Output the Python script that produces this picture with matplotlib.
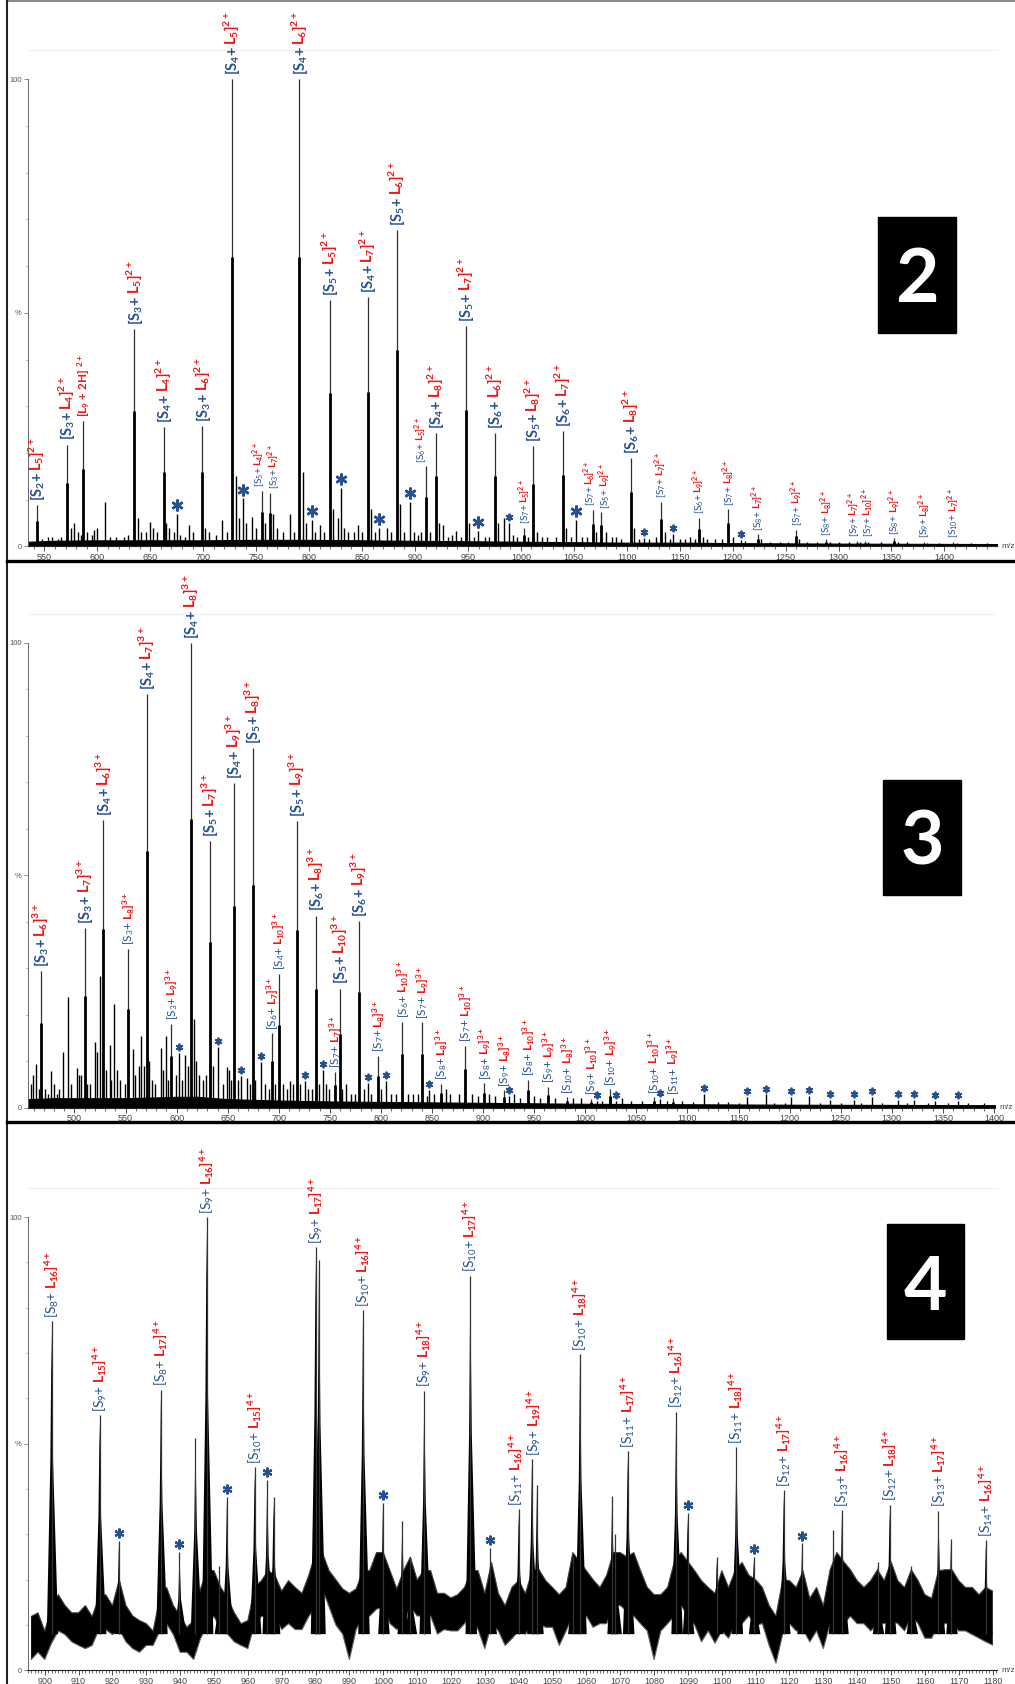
import numpy as np
import matplotlib
matplotlib.use("Agg")
import matplotlib.pyplot as plt
from matplotlib.transforms import offset_copy
from matplotlib.patches import Rectangle
from matplotlib.lines import Line2D
from matplotlib.ticker import MultipleLocator

plt.rcParams['font.family'] = ['Lato', 'DejaVu Sans']
plt.rcParams['mathtext.default'] = 'regular'
plt.rcParams['hatch.linewidth'] = 1.0

W, H, DPI = 1015, 1684, 100
BLUE = '#27508e'
RED = '#f01515'

### ---------------- panel 1 : 2+ ----------------
# labelled peaks: m/z, intensity, S index, L index, big label?
p1_mz  = [543.2, 571.0, 634.9, 662.6, 699.2, 727.2, 755.3, 763.1, 790.8, 819.5, 855.5,
          882.9, 910.6, 919.8, 947.7, 975.5, 1003.2, 1011.4, 1039.4, 1067.8, 1076.0,
          1103.7, 1132.0, 1168.0, 1196.0, 1223.7, 1260.0, 1288.0, 1317.0, 1324.6,
          1352.3, 1380.6, 1408.0]
p1_int = [8.8, 21.8, 46.6, 25.6, 25.8, 100, 11.9, 11.5, 100, 52.8, 53.3,
          67.7, 17.2, 24.3, 47.2, 24.3, 4.0, 21.4, 24.6, 7.8, 7.3,
          18.9, 9.6, 6.1, 8.0, 2.6, 3.6, 1.5, 1.2, 1.2,
          1.8, 1.0, 1.0]
p1_s   = ['2', '3', '3', '4', '3', '4', '5', '3', '4', '5', '4',
          '5', '6', '4', '5', '6', '7', '5', '6', '7', '5',
          '6', '7', '6', '7', '8', '7', '8', '9', '7',
          '8', '9', '10']
p1_l   = ['5', '4', '5', '4', '6', '5', '4', '7', '6', '5', '7',
          '6', '5', '8', '7', '6', '5', '8', '7', '6', '9',
          '8', '7', '9', '8', '7', '9', '8', '7', '10',
          '9', '8', '7']
p1_big = [1, 1, 1, 1, 1, 1, 0, 0, 1, 1, 1,
          1, 0, 1, 1, 1, 0, 1, 1, 0, 0,
          1, 0, 0, 0, 0, 0, 0, 0, 0,
          0, 0, 0]
# the [L9 + 2H] peak
p1_h_mz, p1_h_int = 586.4, 26.8
# asterisk peaks
a1_mz  = [675.0, 737.9, 802.5, 830.5, 866.2, 895.5, 959.4, 988.4, 1052.0, 1116.0, 1143.4, 1208.0]
a1_int = [6.9, 10.3, 5.7, 12.6, 4.0, 9.6, 3.4, 5.0, 5.7, 1.8, 2.6, 1.3]
a1_big = [1, 1, 1, 1, 1, 1, 1, 0, 1, 0, 0, 0]
# unlabelled small peaks
m1_mz  = [548, 553, 557, 563, 566, 575, 578, 582, 585, 590, 595, 597, 599.3, 607, 612, 618,
          625, 629, 638, 641, 646, 649.7, 653, 656, 665, 668, 672, 678, 683, 686.9, 690, 702,
          705, 712, 717.8, 722, 730.5, 734, 740.5, 745.8, 750, 758, 766, 770, 775, 782, 786,
          794, 797, 806, 810, 814, 822.5, 827, 833, 837, 842, 846, 850, 858.5, 862, 873.3,
          877, 886, 890, 899, 903, 906, 914, 923, 926, 931, 935, 939, 943, 951, 956, 966,
          970, 978, 983.7, 993, 996, 1007, 1015, 1020, 1025, 1033, 1043, 1047, 1058, 1062,
          1071, 1080, 1086, 1090, 1095, 1107, 1112, 1121, 1128, 1136, 1141, 1150, 1155, 1160,
          1164, 1172, 1176, 1183, 1190, 1200, 1212, 1227, 1235, 1245, 1252, 1263, 1270, 1280,
          1292, 1300, 1310, 1320, 1328, 1340, 1356, 1365, 1384, 1395, 1412, 1425, 1440]
m1_int = [1.5, 2, 2, 1.5, 2, 4, 5, 3, 2.5, 3, 2.5, 3.5, 4, 9.6, 2, 2,
          2, 2.5, 6, 3, 3, 5.3, 4, 3, 5, 4, 3, 2.5, 2, 4.6, 3, 4,
          3, 2.5, 5.7, 3, 15, 6, 5, 6.2, 4, 5, 6.9, 4, 3, 6.9, 3,
          16, 5, 3, 4.5, 3, 8, 6, 4, 3, 3, 4.5, 3, 8, 3, 4,
          3, 9, 3, 3, 2.5, 3, 3, 5, 4.5, 2, 2.5, 3.4, 2, 5, 2, 2,
          2, 5, 6, 2.5, 2, 2, 3, 2, 2, 2, 4, 2, 2, 2,
          3, 3, 2, 2, 1.5, 4, 1.5, 1.5, 2, 3, 1.5, 1.5, 1.5, 2,
          1.5, 2, 1.5, 1.5, 1.5, 2, 1.2, 1.5, 1, 1, 1, 1.5, 1, 1,
          1, 1, 1, 1, 1, 1, 1, 1, 0.8, 0.8, 0.8, 0.8, 0.8]
# noise floor
b1_mz  = [534, 560, 600, 650, 700, 750, 800, 850, 900, 950, 1000, 1050, 1100, 1150, 1200, 1300, 1450]
b1_lvl = [1.0, 1.2, 1.3, 1.3, 1.3, 1.4, 1.4, 1.3, 1.2, 1.1, 1.0, 0.9, 0.8, 0.8, 0.7, 0.6, 0.5]

### ---------------- panel 2 : 3+ ----------------
p2_mz  = [467.1, 509.8, 528.3, 552.4, 570.9, 594.9, 613.9, 632.4, 656.1, 674.6, 693.5,
          699.7, 717.9, 736.1, 755.0, 759.8, 778.7, 797.3, 821.0, 840.2, 858.7, 882.4,
          901.3, 920.5, 944.0, 963.4, 982.0, 1005.7, 1024.2, 1066.8, 1085.6]
p2_int = [29.3, 38.6, 61.8, 34.2, 88.9, 18.0, 100, 57.3, 69.9, 77.3, 16.0,
          28.8, 61.7, 41.3, 7.7, 25.6, 40.2, 11.1, 18.5, 18.4, 5.1, 13.3,
          5.2, 3.7, 6.0, 4.5, 2.2, 1.9, 3.9, 2.2, 2.0]
p2_s   = ['3', '3', '4', '3', '4', '3', '4', '5', '4', '5', '6',
          '4', '5', '6', '7', '5', '6', '7', '6', '7', '8', '7',
          '8', '9', '8', '9', '10', '9', '10', '10', '11']
p2_l   = ['6', '7', '6', '8', '7', '9', '8', '7', '9', '8', '7',
          '10', '9', '8', '7', '10', '9', '8', '10', '9', '8', '10',
          '9', '8', '10', '9', '8', '10', '9', '10', '9']
p2_big = [1, 1, 1, 0, 1, 0, 1, 1, 1, 1, 0,
          0, 1, 1, 0, 1, 1, 0, 0, 0, 0, 0,
          0, 0, 0, 0, 0, 0, 0, 0, 0]
a2_mz  = [602.7, 640.5, 662.6, 682.4, 725.4, 743.2, 786.8, 805.0, 847.3, 925.4, 1011.6,
          1030.0, 1073.3, 1115.7, 1158.0, 1176.5, 1200.9, 1219.0, 1239.5, 1262.6, 1280.8,
          1305.8, 1322.0, 1342.5, 1364.3]
a2_int = [11.7, 13.1, 6.8, 9.8, 5.8, 8.1, 5.2, 5.8, 3.8, 2.5, 1.5,
          1.5, 1.9, 3.0, 2.2, 2.8, 2.2, 2.5, 1.7, 1.7, 2.2,
          1.7, 1.7, 1.5, 1.5]
m2_mz  = [457, 459, 462, 465, 471, 474, 477.3, 480, 483, 485, 488.6, 493.2, 497, 502.1, 504,
          506, 512, 515, 519.8, 522, 524.7, 531, 534.5, 536, 539, 542, 545, 549, 556.9, 559,
          563, 565.1, 568, 573, 576, 579, 584.6, 587, 589.8, 592, 599, 605, 608, 611, 616.7,
          619, 622, 626, 629, 636, 645, 648.9, 651, 653, 660, 669, 672, 677, 686, 690, 696,
          704, 708, 711, 714, 721, 729, 732, 739, 746, 749, 762, 766, 771, 775, 783, 790,
          800, 810, 815, 826, 831, 836, 845, 852, 864, 868, 876, 889, 895, 906, 912, 930,
          936, 950, 956, 970, 988, 996, 1016, 1036, 1045, 1055, 1080, 1095, 1105, 1130, 1140,
          1150, 1185, 1195, 1230, 1250, 1270, 1290, 1315, 1335, 1355, 1375, 1390]
m2_int = [5, 7, 9.4, 4, 4, 3, 7.9, 5, 3, 4, 11.9, 23.7, 5, 8.5, 7,
          7, 5, 5, 14, 12, 28.3, 8, 13.4, 6, 22.3, 8, 6, 5, 12.6, 7,
          9, 15.4, 9, 10, 6, 5, 12.8, 8, 15.4, 6, 7, 6, 11.2, 9, 19,
          10, 7, 6, 7, 9, 5, 8.8, 8, 6, 6, 6.4, 5, 6, 5, 4, 5,
          5, 4, 5.8, 5, 5, 4, 4, 5, 5, 4, 4, 5, 3, 3, 4, 3,
          4, 3, 3, 3, 3, 3, 2.5, 3, 4, 3, 3, 3, 2.5, 3, 2.5, 3,
          2, 2.5, 2, 2, 2, 2, 1.5, 2, 1.5, 1.5, 1.5, 1.5, 1.2, 1.2, 1.2,
          1, 1, 1, 1, 1, 1, 1, 1, 1, 1, 1, 1]
b2_mz  = [454, 480, 500, 550, 600, 620, 650, 700, 750, 800, 850, 900, 1000, 1100, 1200, 1401]
b2_lvl = [1.8, 2.0, 2.0, 2.0, 2.3, 2.3, 1.8, 1.5, 1.3, 1.2, 1.1, 1.0, 0.8, 0.7, 0.6, 0.5]

### ---------------- panel 3 : 4+ ----------------
p3_mz  = [902.0, 916.2, 934.3, 947.8, 962.0, 980.0, 994.0, 1012.1, 1025.7, 1040.0,
          1043.9, 1058.1, 1072.2, 1086.5, 1104.3, 1118.3, 1135.5, 1149.6, 1164.0, 1178.0]
p3_int = [77.0, 56.3, 61.9, 100, 44.8, 93.3, 79.4, 61.7, 87.1, 35.5,
          46.6, 69.7, 48.4, 57.1, 49.2, 39.7, 35.3, 36.5, 35.2, 28.7]
p3_s   = ['8', '9', '8', '9', '10', '9', '10', '9', '10', '11',
          '9', '10', '11', '12', '11', '12', '13', '12', '13', '14']
p3_l   = ['16', '15', '17', '16', '15', '17', '16', '18', '17', '16',
          '19', '18', '17', '16', '18', '17', '16', '18', '17', '16']
a3_mz  = [921.9, 939.8, 953.8, 965.7, 999.9, 1031.6, 1089.9, 1109.4, 1123.7]
a3_int = [28.6, 26.2, 38.3, 42.1, 37.0, 27.0, 34.7, 25.0, 28.0]
m3_mz  = [944.5, 951.6, 967.6, 981.0, 1005.6, 1008.0, 1045.4, 1056.0, 1067.6, 1068.5,
          1098.5, 1133.0, 1146.0, 1156.0, 1167.7]
m3_int = [51.3, 23.0, 38.3, 90.5, 33.0, 25.0, 40.9, 25.0, 38.5, 30.0,
          25.0, 31.0, 24.0, 23.0, 29.0]
# noise band, one pair of values every 2 m/z from 896 to 1180
n3_lo = [2.4, 4.0, 2.4, 6.0, 8.7, 7.9, 6.3, 5.5, 4.8, 5.5, 9.0, 9.0, 7.9, 9.0, 6.3, 4.8,
         4.0, 5.5, 5.5, 8.7, 10.3, 7.9, 4.0, 4.0, 2.4, 7.0, 10.0, 11.9, 9.0, 8.0, 6.3, 5.5,
         4.8, 10.3, 11.9, 11.9, 11.9, 9.0, 10.3, 9.0, 9.0, 11.9, 14.0, 18.0, 14.0, 10.0, 8.0,
         2.4, 9.0, 11.9, 12.0, 13.5, 14.0, 10.3, 9.0, 10.3, 14.0, 12.0, 12.0, 12.0, 8.0, 9.0,
         8.7, 8.7, 10.3, 12.0, 9.0, 4.8, 10.3, 8.7, 5.5, 7.0, 8.7, 8.0, 10.3, 10.3, 9.5, 9.5,
         5.5, 8.7, 11.9, 12.0, 12.0, 9.5, 10.3, 10.3, 14.3, 14.3, 13.0, 12.0, 10.3, 8.7, 2.4,
         8.7, 10.3, 12.0, 14.3, 12.0, 10.0, 6.3, 8.7, 6.0, 8.7, 7.1, 10.3, 10.3, 12.0, 10.0,
         10.3, 5.5, 1.6, 8.0, 10.3, 8.7, 9.0, 6.3, 8.7, 4.8, 10.3, 10.3, 10.3, 11.9, 10.3,
         10.3, 8.7, 10.3, 10.3, 11.0, 10.3, 8.7, 11.9, 10.3, 7.1, 7.1, 10.0, 10.3, 10.3, 8.7,
         8.7, 7.9, 7.1, 6.3, 5.6]
n3_hi = [11.9, 12.7, 8.7, 14.0, 16.7, 14.3, 12.7, 12.7, 14.3, 11.9, 16.0, 16.7, 14.3, 20.0,
         14.3, 12.0, 11.0, 10.3, 8.7, 16.0, 18.3, 14.3, 12.0, 9.5, 11.0, 18.0, 22.0, 22.0, 18.3,
         16.0, 12.7, 10.3, 11.0, 18.3, 19.8, 22.0, 21.0, 17.5, 19.8, 18.3, 17.0, 21.0, 26.0,
         26.0, 22.0, 20.0, 18.0, 17.0, 18.0, 22.0, 22.0, 26.0, 26.0, 22.0, 18.0, 22.0, 25.0,
         20.0, 22.0, 22.0, 17.0, 17.0, 16.0, 16.7, 18.3, 22.0, 22.0, 17.0, 23.8, 17.0, 14.3,
         18.3, 19.8, 17.0, 22.0, 22.2, 19.8, 18.3, 16.7, 18.3, 26.0, 24.0, 22.0, 20.0, 18.3,
         21.0, 26.0, 26.0, 25.0, 26.0, 22.0, 18.3, 16.7, 16.7, 18.3, 24.0, 26.0, 24.0, 22.0,
         19.8, 18.3, 17.0, 22.0, 18.3, 22.0, 23.8, 21.0, 20.0, 18.3, 14.3, 12.0, 20.0, 19.8,
         18.3, 22.0, 15.9, 18.3, 14.3, 22.2, 26.0, 24.0, 22.2, 19.8, 18.3, 19.8, 22.2, 19.8,
         24.0, 19.8, 18.3, 22.2, 19.8, 16.7, 15.9, 22.0, 22.2, 22.2, 19.8, 18.3, 18.3, 16.7,
         18.3, 17.5]
n3_mz = np.arange(896, 1181, 2)

### ------------------------------------------------

fig = plt.figure(figsize=(W / DPI, H / DPI), dpi=DPI)
fig.patch.set_facecolor('white')
rend = fig.canvas.get_renderer()


def make_axes(x0, x1, y_zero, y_hundred, y_top, xlim, major, minor):
    ax = fig.add_axes([x0 / W, 1 - y_zero / H, (x1 - x0) / W, (y_zero - y_top) / H])
    ppu = (y_zero - y_hundred) / 100.0
    ax.set_xlim(*xlim)
    ax.set_ylim(0, (y_zero - y_top) / ppu)
    ax.patch.set_alpha(0)
    ax.spines['right'].set_visible(False)
    ax.spines['top'].set_color('#f0f0f0')
    ax.spines['left'].set_bounds(0, 100)
    ax.spines['left'].set_color('#666666')
    ax.spines['left'].set_linewidth(0.7)
    ax.spines['bottom'].set_color('#222222')
    ax.spines['bottom'].set_linewidth(0.8)
    first = np.ceil(xlim[0] / major) * major
    ax.set_xticks(np.arange(first, xlim[1], major))
    ax.set_xticklabels(['%d' % v for v in np.arange(first, xlim[1], major)])
    ax.xaxis.set_minor_locator(MultipleLocator(minor))
    ax.set_yticks([0, 50, 100])
    ax.set_yticklabels(['0', '%', '100'])
    ax.yaxis.set_minor_locator(MultipleLocator(10))
    ax.tick_params(axis='x', which='major', length=3.5, width=0.6, pad=1.5,
                   labelsize=6.5, labelcolor='#444444', color='#333333')
    ax.tick_params(axis='x', which='minor', length=1.8, width=0.5, color='#333333')
    ax.tick_params(axis='y', which='major', length=3, width=0.5, pad=1,
                   labelsize=5.5, labelcolor='#555555', color='#666666')
    ax.tick_params(axis='y', which='minor', length=1.5, width=0.4, color='#666666')
    for t in ax.get_xticklabels() + ax.get_yticklabels():
        t.set_fontfamily(['Liberation Sans', 'DejaVu Sans'])
    ax.annotate('m/z', xy=(1, 0), xycoords='axes fraction', xytext=(3, 0),
                textcoords='offset points', ha='left', va='center', fontsize=6,
                color='#444444', family=['Liberation Sans', 'DejaVu Sans'])
    return ax


def tag(ax, x, y, s, l, z, size, blue_w='bold', gap=3.0, nudge=0.0):
    dx = size * 0.36 + nudge
    tr1 = offset_copy(ax.transData, fig=fig, x=dx, y=gap, units='points')
    t1 = ax.text(x, y, '[S$_{%s}$+' % s, color=BLUE, fontsize=size, fontweight=blue_w,
                 rotation=90, rotation_mode='anchor', ha='left', va='baseline',
                 transform=tr1, clip_on=False, zorder=5)
    length = t1.get_window_extent(renderer=rend).height * 72.0 / DPI
    tr2 = offset_copy(ax.transData, fig=fig, x=dx, y=gap + length + size * 0.12, units='points')
    ax.text(x, y, '$L_{%s}]^{%d+}$' % (l, z), color=RED, fontsize=size, fontweight='bold',
            rotation=90, rotation_mode='anchor', ha='left', va='baseline',
            transform=tr2, clip_on=False, zorder=5)


def star(ax, x, y, ms, mew, gap=2.0):
    tr = offset_copy(ax.transData, fig=fig, y=gap + ms / 2.0, units='points')
    ax.plot([x], [y], marker=(6, 2, 0), ms=ms, mew=mew, color=BLUE, transform=tr,
            clip_on=False, zorder=5)


def sticks(ax, mz, inten):
    mz = np.asarray(mz, float)
    inten = np.asarray(inten, float)
    ax.vlines(mz, 0, inten, color='#303030', lw=0.9, zorder=3)
    ax.vlines(mz, 0, inten * 0.62, color='black', lw=2.0, zorder=3)


### panel 1
# small sideways shifts (points) for labels that sit very close together
p1_nudge = {6: -2.2, 7: 2.2, 12: -4.0, 19: -2.2, 20: 2.2, 28: -2.2, 29: 2.2}
ax1 = make_axes(27.5, 997, 546.4, 79.3, 50, (534.0, 1449.7), 50, 10)
ax1.fill_between(b1_mz, 0, b1_lvl, color='black', lw=0.8, zorder=2)
ax1.vlines(m1_mz, 0, m1_int, color='black', lw=1.0, zorder=2)
ax1.vlines(a1_mz, 0, a1_int, color='black', lw=1.0, zorder=2)
sticks(ax1, p1_mz + [p1_h_mz], p1_int + [p1_h_int])
for i, (x, y, s, l, big) in enumerate(zip(p1_mz, p1_int, p1_s, p1_l, p1_big)):
    if big:
        tag(ax1, x, y, s, l, 2, 10.5)
    else:
        tag(ax1, x, y, s, l, 2, 7.3, blue_w='normal', gap=2.5, nudge=p1_nudge.get(i, 0.0))
ax1.text(p1_h_mz, p1_h_int, '[L$_{9}$ + 2H] $^{2+}$', color=RED, fontsize=8.5, fontweight='bold',
         rotation=90, rotation_mode='anchor', ha='left', va='baseline', clip_on=False,
         transform=offset_copy(ax1.transData, fig=fig, x=3.0, y=3.0, units='points'))
for x, y, big in zip(a1_mz, a1_int, a1_big):
    if big:
        star(ax1, x, y, 8.5, 1.8)
    else:
        star(ax1, x, y, 5.5, 1.3, gap=1.5)

### panel 2
ax2 = make_axes(27.5, 995, 1107.5, 642.9, 613.6, (454.0, 1401.0), 50, 10)
ax2.fill_between(b2_mz, 0, b2_lvl, color='black', lw=0.8, zorder=2)
ax2.vlines(m2_mz, 0, m2_int, color='black', lw=1.0, zorder=2)
ax2.vlines(a2_mz, 0, a2_int, color='black', lw=1.0, zorder=2)
sticks(ax2, p2_mz, p2_int)
for x, y, s, l, big in zip(p2_mz, p2_int, p2_s, p2_l, p2_big):
    if big:
        tag(ax2, x, y, s, l, 3, 10.5)
    else:
        tag(ax2, x, y, s, l, 3, 8.5, blue_w='normal', gap=2.5)
for x, y in zip(a2_mz, a2_int):
    star(ax2, x, y, 5.5, 1.3, gap=1.5)

### panel 3
p3_nudge = {9: -1.8, 10: 1.8}
ax3 = make_axes(27.5, 997, 1670.4, 1217.1, 1188, (894.9, 1181.3), 10, 1)
ax3.fill_between(n3_mz, n3_lo, n3_hi, facecolor='#3a3a3a', edgecolor='black',
                 hatch='|' * 14, lw=0, zorder=2)
ax3.plot(n3_mz, n3_lo, color='#666666', lw=0.8, zorder=2)
ax3.plot(n3_mz, n3_hi, color='#444444', lw=0.8, zorder=2)
all3_mz = p3_mz + m3_mz + a3_mz
all3_int = p3_int + m3_int + a3_int
for x, y in zip(all3_mz, all3_int):
    ax3.fill([x - 1.4, x - 0.35, x, x + 0.45, x + 2.0], [8, y * 0.6, y * 0.97, y * 0.6, 8],
             color='black', lw=0, zorder=3)
ax3.vlines(all3_mz, 8, all3_int, color='#333333', lw=0.9, zorder=3)
for i, (x, y, s, l) in enumerate(zip(p3_mz, p3_int, p3_s, p3_l)):
    tag(ax3, x, y, s, l, 4, 10.0, blue_w='normal', gap=2.5, nudge=p3_nudge.get(i, 0.0))
for x, y in zip(a3_mz, a3_int):
    star(ax3, x, y, 7.0, 1.6)

### number boxes
for x0, x1, yt, yb, ybase, txt in [(877.7, 956, 217.3, 332.7, 302, '2'),
                                    (883, 961, 779.6, 894.6, 864, '3'),
                                    (887, 964, 1224, 1339, 1310, '4')]:
    fig.add_artist(Rectangle((x0 / W, 1 - yb / H), (x1 - x0) / W, (yb - yt) / H,
                             transform=fig.transFigure, color='black', zorder=10))
    fig.text((x0 + x1) / 2 / W, 1 - ybase / H, txt, color='white', fontsize=54,
             fontweight='bold', ha='center', va='baseline', zorder=11)

### panel frames
fig.add_artist(Line2D([7 / W, 1], [1 - 0.8 / H, 1 - 0.8 / H], transform=fig.transFigure,
                      color='#8a8a8a', lw=1.5))
fig.add_artist(Line2D([7 / W, 7 / W], [0, 1], transform=fig.transFigure, color='#222222', lw=1.5))
for yy in [560.5, 1121.5]:
    fig.add_artist(Line2D([7 / W, 1], [1 - yy / H, 1 - yy / H], transform=fig.transFigure,
                          color='black', lw=2.4))

fig.savefig('out.png', dpi=DPI)
